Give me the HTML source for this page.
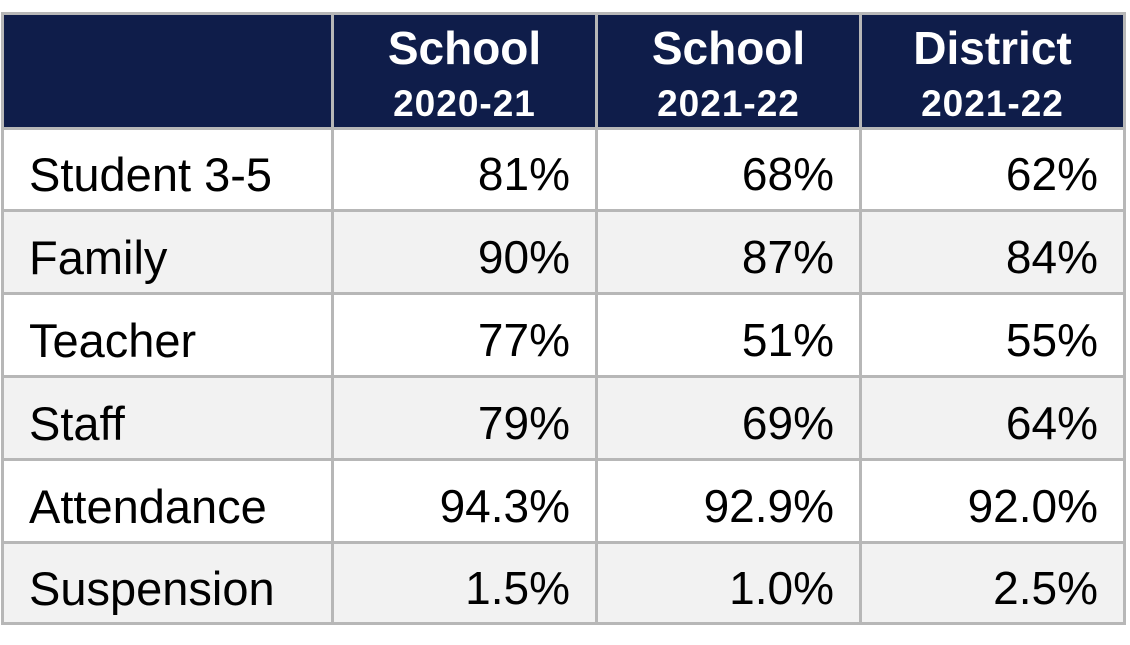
<!DOCTYPE html>
<html><head><style>
body{margin:0;width:1130px;height:645px;background:#fff;position:relative;overflow:hidden;font-family:"Liberation Sans",sans-serif}
.h{position:absolute;background:#b7b7b7;height:3px;left:1px;width:1125px}
.v{position:absolute;background:#b7b7b7;width:3px;top:12px;height:613px}
.hd{position:absolute;top:15px;height:112px;background:#0f1d4a}
.r{position:absolute;left:4px;width:1119px}
.t{position:absolute;font-size:46px;color:#000;line-height:1}
.l{font-size:47px}
.n{text-align:right}
.ht{position:absolute;color:#fff;font-weight:bold;text-align:center;line-height:1}
</style></head><body>
<div class="hd" style="left:4px;width:1119px"></div>
<div class="r" style="top:130px;height:79px;background:#fff"></div>
<div class="r" style="top:212px;height:80px;background:#f2f2f2"></div>
<div class="r" style="top:295px;height:80px;background:#fff"></div>
<div class="r" style="top:378px;height:80px;background:#f2f2f2"></div>
<div class="r" style="top:461px;height:80px;background:#fff"></div>
<div class="r" style="top:544px;height:78px;background:#f2f2f2"></div>

<div class="h" style="top:12px"></div>
<div class="h" style="top:127px"></div>
<div class="h" style="top:209px"></div>
<div class="h" style="top:292px"></div>
<div class="h" style="top:375px"></div>
<div class="h" style="top:458px"></div>
<div class="h" style="top:541px"></div>
<div class="h" style="top:622px"></div>
<div class="v" style="left:1px"></div>
<div class="v" style="left:331px"></div>
<div class="v" style="left:595px"></div>
<div class="v" style="left:859px"></div>
<div class="v" style="left:1123px"></div>

<div class="ht" style="left:334px;width:261px;top:25px;font-size:46px">School</div>
<div class="ht" style="left:334px;width:261px;top:85px;font-size:37px;letter-spacing:1px">2020-21</div>
<div class="ht" style="left:598px;width:261px;top:25px;font-size:46px">School</div>
<div class="ht" style="left:598px;width:261px;top:85px;font-size:37px;letter-spacing:1px">2021-22</div>
<div class="ht" style="left:862px;width:261px;top:25px;font-size:46px">District</div>
<div class="ht" style="left:862px;width:261px;top:85px;font-size:37px;letter-spacing:1px">2021-22</div>

<div class="t l" style="left:29px;top:151px">Student 3-5</div>
<div class="t l" style="left:29px;top:234px">Family</div>
<div class="t l" style="left:29px;top:317px">Teacher</div>
<div class="t l" style="left:29px;top:400px">Staff</div>
<div class="t l" style="left:29px;top:483px">Attendance</div>
<div class="t l" style="left:29px;top:565px">Suspension</div>

<div class="t n" style="left:334px;width:236px;top:151px">81%</div>
<div class="t n" style="left:598px;width:236px;top:151px">68%</div>
<div class="t n" style="left:862px;width:236px;top:151px">62%</div>
<div class="t n" style="left:334px;width:236px;top:234px">90%</div>
<div class="t n" style="left:598px;width:236px;top:234px">87%</div>
<div class="t n" style="left:862px;width:236px;top:234px">84%</div>
<div class="t n" style="left:334px;width:236px;top:317px">77%</div>
<div class="t n" style="left:598px;width:236px;top:317px">51%</div>
<div class="t n" style="left:862px;width:236px;top:317px">55%</div>
<div class="t n" style="left:334px;width:236px;top:400px">79%</div>
<div class="t n" style="left:598px;width:236px;top:400px">69%</div>
<div class="t n" style="left:862px;width:236px;top:400px">64%</div>
<div class="t n" style="left:334px;width:236px;top:483px">94.3%</div>
<div class="t n" style="left:598px;width:236px;top:483px">92.9%</div>
<div class="t n" style="left:862px;width:236px;top:483px">92.0%</div>
<div class="t n" style="left:334px;width:236px;top:565px">1.5%</div>
<div class="t n" style="left:598px;width:236px;top:565px">1.0%</div>
<div class="t n" style="left:862px;width:236px;top:565px">2.5%</div>
</body></html>
